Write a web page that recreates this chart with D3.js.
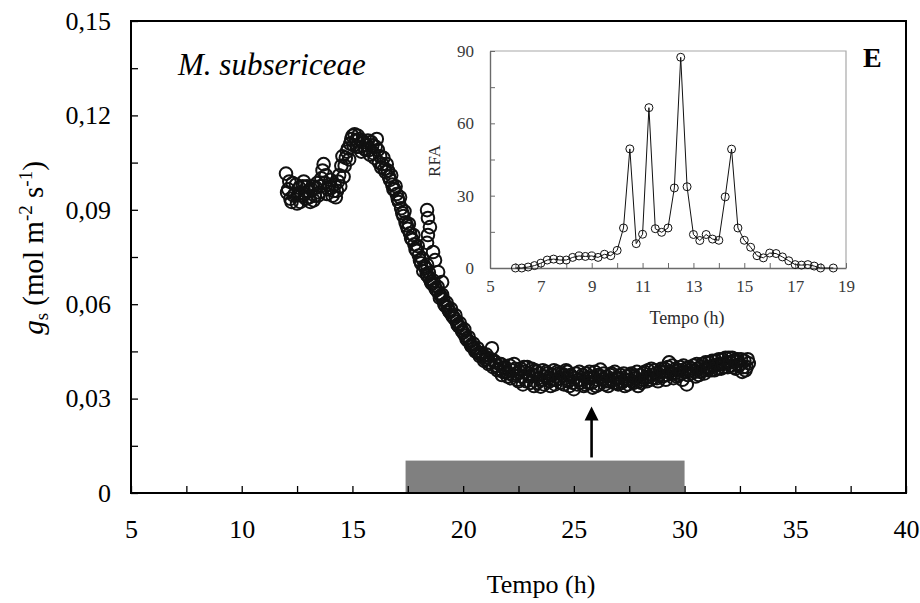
<!DOCTYPE html>
<html>
<head>
<meta charset="utf-8">
<script src="https://cdn.jsdelivr.net/npm/d3@7"></script>
<style>
  html, body { margin: 0; padding: 0; background: #fff; }
  svg { display: block; font-family: "Liberation Serif", "Times New Roman", serif; }
</style>
</head>
<body>
<svg id="chart" width="920" height="603"></svg>
<script>
// Stomatal conductance g_s over time (h), measured as [time, g_s] pairs
const gsSeries = [
  [12.0,0.1015],[12.1,0.0965],[12.2,0.0935],[12.3,0.0985],[12.4,0.0950],[12.5,0.0920],[12.6,0.0970],[12.7,0.0945],[12.8,0.0990],[12.9,0.0935],
  [13.0,0.0960],[13.1,0.0925],[13.2,0.0975],[13.3,0.0945],[13.4,0.0985],[13.5,0.0955],[13.6,0.1000],[13.7,0.1045],[13.8,0.1010],[13.9,0.0965],
  [14.0,0.0995],[14.1,0.0945],[14.2,0.0980],[14.3,0.0960],[14.4,0.1010],[14.5,0.1040],[14.6,0.1005],[14.7,0.1065],[14.8,0.1095],[14.9,0.1110],
  [15.0,0.1135],[15.1,0.1140],[15.2,0.1100],[15.3,0.1125],[15.4,0.1085],[15.5,0.1115],[15.6,0.1090],[15.7,0.1120],[15.8,0.1075],[15.9,0.1105],
  [16.0,0.1065],[16.1,0.1125],[16.15,0.1090],[16.2,0.1050],[16.3,0.1035],[16.4,0.1065],[16.5,0.1020],[16.6,0.1025],[16.7,0.0995],[16.8,0.0980],[16.9,0.0965],
  [17.0,0.0950],[17.1,0.0925],[17.2,0.0905],[17.3,0.0880],[17.4,0.0860],[17.5,0.0840],[17.6,0.0825],[17.7,0.0805],[17.8,0.0790],[17.9,0.0770],
  [18.0,0.0755],[18.1,0.0730],[18.2,0.0705],[18.3,0.0715],[18.4,0.0690],[18.5,0.0680],[18.6,0.0665],[18.7,0.0660],[18.8,0.0645],[18.9,0.0635],
  [18.37,0.0899],[18.41,0.0874],[18.50,0.0845],[18.41,0.0820],[18.37,0.0795],[18.64,0.0766],[18.73,0.0740],[18.37,0.0725],[18.87,0.0702],[19.05,0.0670],
  [19.0,0.0625],[19.1,0.0615],[19.2,0.0595],[19.3,0.0590],[19.4,0.0575],[19.5,0.0565],[19.6,0.0555],[19.7,0.0545],[19.8,0.0530],[19.9,0.0525],
  [20.0,0.0510],[20.1,0.0500],[20.2,0.0485],[20.3,0.0480],[20.4,0.0465],[20.5,0.0460],[20.6,0.0450],[20.7,0.0445],[20.8,0.0440],[20.9,0.0435],
  [21.0,0.0425],[21.1,0.0430],[21.2,0.0415],[21.3,0.0460],[21.4,0.0420],[21.5,0.0405],[21.6,0.0395],[21.7,0.0410],[21.8,0.0385],[21.9,0.0400],
  [22.0,0.0370],[22.1,0.0405],[22.2,0.0390],[22.3,0.0410],[22.4,0.0380],[22.5,0.0355],[22.6,0.0395],[22.7,0.0345],[22.8,0.0385],[22.9,0.0400],
  [23.0,0.0370],[23.1,0.0395],[23.2,0.0340],[23.3,0.0385],[23.4,0.0365],[23.5,0.0338],[23.6,0.0390],[23.7,0.0370],[23.8,0.0380],[23.9,0.0355],
  [24.0,0.0375],[24.1,0.0390],[24.2,0.0360],[24.3,0.0380],[24.4,0.0350],[24.5,0.0375],[24.6,0.0365],[24.7,0.0385],[24.8,0.0340],[24.9,0.0370],
  [25.0,0.0330],[25.1,0.0380],[25.2,0.0360],[25.3,0.0350],[25.4,0.0375],[25.5,0.0345],[25.6,0.0365],[25.7,0.0385],[25.8,0.0350],[25.9,0.0370],
  [26.0,0.0340],[26.1,0.0375],[26.2,0.0392],[26.3,0.0360],[26.4,0.0345],[26.5,0.0370],[26.6,0.0355],[26.7,0.0380],[26.8,0.0350],[26.9,0.0365],
  [27.0,0.0345],[27.1,0.0375],[27.2,0.0355],[27.3,0.0340],[27.4,0.0370],[27.5,0.0360],[27.6,0.0380],[27.7,0.0350],[27.8,0.0365],[27.9,0.0340],
  [28.0,0.0375],[28.1,0.0360],[28.2,0.0385],[28.3,0.0355],[28.4,0.0370],[28.5,0.0395],[28.6,0.0365],[28.7,0.0380],[28.8,0.0355],[28.9,0.0385],
  [29.0,0.0370],[29.1,0.0395],[29.2,0.0375],[29.3,0.0415],[29.4,0.0380],[29.5,0.0365],[29.6,0.0395],[29.7,0.0375],[29.8,0.0400],[29.9,0.0360],
  [30.0,0.0385],[30.1,0.0345],[30.2,0.0400],[30.3,0.0380],[30.4,0.0405],[30.5,0.0370],[30.6,0.0395],[30.7,0.0385],[30.8,0.0410],[30.9,0.0380],
  [31.0,0.0400],[31.1,0.0415],[31.2,0.0390],[31.3,0.0405],[31.4,0.0420],[31.5,0.0395],[31.6,0.0410],[31.7,0.0425],[31.8,0.0400],[31.9,0.0415],
  [32.0,0.0430],[32.1,0.0405],[32.2,0.0420],[32.3,0.0395],[32.4,0.0425],[32.5,0.0410],[32.6,0.0385],[32.7,0.0420],[32.8,0.0400],[32.9,0.0412],
  // readings taken between the tenth-hour marks
  [12.05,0.0955],[12.15,0.0990],[12.25,0.0925],[12.35,0.0945],[12.45,0.0980],[12.55,0.0950],[12.65,0.0925],[12.75,0.0975],[12.85,0.0950],[12.95,0.0975],
  [13.05,0.0940],[13.15,0.0965],[13.25,0.0930],[13.35,0.0970],[13.45,0.0945],[13.55,0.0975],[13.65,0.1025],[13.75,0.0985],[13.85,0.0950],[13.95,0.0980],
  [14.05,0.0970],[14.15,0.0960],[14.25,0.0940],[14.35,0.0990],[14.45,0.0975],[14.55,0.1070],[14.65,0.1040],[14.75,0.1085],[14.85,0.1060],[14.95,0.1125],
  [15.05,0.1105],[15.15,0.1120],[15.25,0.1135],[15.35,0.1100],[15.45,0.1120],[15.55,0.1095],[15.65,0.1105],[15.75,0.1090],[15.85,0.1115],[15.95,0.1080],
  [16.05,0.1100],[16.25,0.1070],[16.35,0.1045],[16.45,0.1030],[16.55,0.1045],[16.65,0.1005],[16.75,0.1010],[16.85,0.0965],[16.95,0.0975],
  [17.05,0.0935],[17.15,0.0940],[17.25,0.0890],[17.35,0.0895],[17.45,0.0850],[17.55,0.0855],[17.65,0.0810],[17.75,0.0820],[17.85,0.0775],[17.95,0.0785],
  [18.05,0.0740],[18.15,0.0745],[18.25,0.0720],[18.35,0.0695],[18.45,0.0700],[18.55,0.0670],[18.65,0.0675],[18.75,0.0650],[18.85,0.0655],[18.95,0.0620],
  [19.05,0.0630],[19.15,0.0600],[19.25,0.0605],[19.35,0.0580],[19.45,0.0585],[19.55,0.0560],[19.65,0.0565],[19.75,0.0535],[19.85,0.0540],[19.95,0.0515],
  [20.05,0.0520],[20.15,0.0490],[20.25,0.0495],[20.35,0.0470],[20.45,0.0475],[20.55,0.0450],[20.65,0.0460],[20.75,0.0435],[20.85,0.0445],[20.95,0.0420],
  [21.05,0.0440],[21.15,0.0410],[21.25,0.0425],[21.35,0.0400],[21.45,0.0415],[21.55,0.0390],[21.65,0.0410],[21.75,0.0375],[21.85,0.0395],[21.95,0.0385],
  [22.05,0.0380],[22.15,0.0365],[22.25,0.0375],[22.35,0.0395],[22.45,0.0360],[22.55,0.0385],[22.65,0.0370],[22.75,0.0400],[22.85,0.0355],[22.95,0.0380],
  [23.05,0.0350],[23.15,0.0375],[23.25,0.0390],[23.35,0.0350],[23.45,0.0380],[23.55,0.0360],[23.65,0.0345],[23.75,0.0385],[23.85,0.0365],[23.95,0.0340],
  [24.05,0.0360],[24.15,0.0345],[24.25,0.0385],[24.35,0.0365],[24.45,0.0380],[24.55,0.0345],[24.65,0.0390],[24.75,0.0355],[24.85,0.0375],[24.95,0.0350],
  [25.05,0.0365],[25.15,0.0345],[25.25,0.0385],[25.35,0.0360],[25.45,0.0340],[25.55,0.0380],[25.65,0.0350],[25.75,0.0365],[25.85,0.0335],[25.95,0.0385],
  [26.05,0.0360],[26.15,0.0345],[26.25,0.0370],[26.35,0.0380],[26.45,0.0355],[26.55,0.0340],[26.65,0.0375],[26.75,0.0360],[26.85,0.0385],[26.95,0.0350],
  [27.05,0.0365],[27.15,0.0350],[27.25,0.0380],[27.35,0.0360],[27.45,0.0345],[27.55,0.0375],[27.65,0.0355],[27.75,0.0370],[27.85,0.0385],[27.95,0.0355],
  [28.05,0.0350],[28.15,0.0380],[28.25,0.0365],[28.35,0.0390],[28.45,0.0360],[28.55,0.0375],[28.65,0.0390],[28.75,0.0365],[28.85,0.0375],[28.95,0.0395],
  [29.05,0.0385],[29.15,0.0360],[29.25,0.0400],[29.35,0.0385],[29.45,0.0405],[29.55,0.0380],[29.65,0.0370],[29.75,0.0390],[29.85,0.0380],[29.95,0.0405],
  [30.05,0.0395],[30.15,0.0375],[30.25,0.0390],[30.35,0.0395],[30.45,0.0385],[30.55,0.0410],[30.65,0.0375],[30.75,0.0400],[30.85,0.0390],[30.95,0.0415],
  [31.05,0.0390],[31.15,0.0400],[31.25,0.0420],[31.35,0.0390],[31.45,0.0405],[31.55,0.0425],[31.65,0.0395],[31.75,0.0410],[31.85,0.0430],[31.95,0.0400],
  [32.05,0.0415],[32.15,0.0430],[32.25,0.0400],[32.35,0.0420],[32.45,0.0405],[32.55,0.0425],[32.65,0.0400],[32.75,0.0390],[32.85,0.0425]
];

// Inset: RFA against time (h)
const rfaTime  = [6.0,6.25,6.5,6.75,7.0,7.25,7.5,7.75,8.0,8.25,8.5,8.75,9.0,9.25,9.5,9.75,10.0,10.25,10.5,10.75,11.0,11.25,11.5,11.75,12.0,12.25,12.5,12.75,13.0,13.25,13.5,13.75,14.0,14.25,14.5,14.75,15.0,15.25,15.5,15.75,16.0,16.25,16.5,16.75,17.0,17.25,17.5,17.75,18.0,18.5];
const rfaValue = [0,0,0.4,1,2,3.3,3.7,3.3,3.3,4.4,5,4.8,5,4.4,5.7,5.1,7.3,16.6,49.4,10.1,14,66.5,16.3,14.8,16.6,33.2,87.4,33.7,13.9,11.4,13.9,12,11.5,29.5,49.3,16.6,11.5,8.6,5.1,4.2,6.2,6,4.6,3,1.4,1.2,1.4,0.8,0,0];

// Axis ticks and labels
const xMainTicks = [5,10,15,20,25,30,35,40];
const xMainMinor = [7.5,12.5,17.5,22.5,27.5,32.5,37.5];
const yMainTicks = [0,0.03,0.06,0.09,0.12,0.15];
const yMainLabels = ["0","0,03","0,06","0,09","0,12","0,15"];
const yMainMinor = [0.015,0.045,0.075,0.105,0.135];
const xInsetLabels = [5,7,9,11,13,15,17,19];
const xInsetTicks = [5,6,7,8,9,10,11,12,13,14,15,16,17,18,19];
const yInsetLabels = [0,30,60,90];
const yInsetTicks = [0,15,30,45,60,75,90];

// Dark period bar and arrow annotation (time in h, g_s units)
const darkPeriod = [17.4, 30];
const darkPeriodTop = 0.0103;
const arrowAt = { time: 25.8, from: 0.0113, to: 0.0275 };

const svg = d3.select("#chart");

// ---------- main panel ----------
const x = d3.scaleLinear().domain([5, 40]).range([131, 906]);
const y = d3.scaleLinear().domain([0, 0.15]).range([493, 21]);

// dark period bar
svg.append("rect")
  .attr("x", x(darkPeriod[0]))
  .attr("y", y(darkPeriodTop))
  .attr("width", x(darkPeriod[1]) - x(darkPeriod[0]))
  .attr("height", y(0) - y(darkPeriodTop))
  .attr("fill", "#808080");

// arrow
svg.append("line")
  .attr("x1", x(arrowAt.time)).attr("x2", x(arrowAt.time))
  .attr("y1", y(arrowAt.from)).attr("y2", y(arrowAt.to) + 12)
  .attr("stroke", "#000").attr("stroke-width", 2.6);
svg.append("path")
  .attr("d", `M${x(arrowAt.time)},${y(arrowAt.to)} l-7,14 l14,0 Z`)
  .attr("fill", "#000");

// data points
svg.append("g").selectAll("circle")
  .data(gsSeries)
  .join("circle")
  .attr("cx", d => x(d[0]))
  .attr("cy", d => y(d[1]))
  .attr("r", 6.3)
  .attr("fill", "none")
  .attr("stroke", "#111")
  .attr("stroke-width", 2);

// plot frame
svg.append("rect")
  .attr("x", x(5)).attr("y", y(0.15))
  .attr("width", x(40) - x(5)).attr("height", y(0) - y(0.15))
  .attr("fill", "none").attr("stroke", "#000").attr("stroke-width", 2);

// axes (ticks point inward)
const xAxisMinor = d3.axisBottom(x).tickValues(xMainMinor).tickSize(-7).tickSizeOuter(0).tickFormat("");
const xAxis = d3.axisBottom(x).tickValues(xMainTicks).tickSize(-7).tickSizeOuter(0).tickPadding(27);
const yAxisMinor = d3.axisLeft(y).tickValues(yMainMinor).tickSize(-7).tickSizeOuter(0).tickFormat("");
const yAxis = d3.axisLeft(y).tickValues(yMainTicks).tickSize(-7).tickSizeOuter(0).tickPadding(20)
  .tickFormat((d, i) => yMainLabels[i]);

function styleAxis(g, size) {
  g.select(".domain").remove();
  g.selectAll(".tick line").attr("stroke", "#000").attr("stroke-width", 1.3);
  g.selectAll(".tick text").attr("fill", "#000").attr("font-size", size)
    .attr("font-family", "Liberation Serif");
}
svg.append("g").attr("transform", `translate(0,${y(0)})`).call(xAxisMinor).call(g => styleAxis(g, 26));
svg.append("g").attr("transform", `translate(0,${y(0)})`).call(xAxis).call(g => styleAxis(g, 26));
svg.append("g").attr("transform", `translate(${x(5)},0)`).call(yAxisMinor).call(g => styleAxis(g, 26));
svg.append("g").attr("transform", `translate(${x(5)},0)`).call(yAxis).call(g => styleAxis(g, 26));

// axis titles
svg.append("text")
  .attr("x", 541).attr("y", 593)
  .attr("text-anchor", "middle").attr("font-size", 26)
  .text("Tempo (h)");

const yTitle = svg.append("text")
  .attr("transform", "translate(43,248) rotate(-90)")
  .attr("text-anchor", "middle").attr("font-size", 29);
yTitle.append("tspan").attr("font-style", "italic").text("g");
yTitle.append("tspan").attr("font-size", 19).attr("dy", 5).text("s");
yTitle.append("tspan").attr("dy", -5).text(" (mol m");
yTitle.append("tspan").attr("font-size", 19).attr("dy", -11).text("-2");
yTitle.append("tspan").attr("dy", 11).text(" s");
yTitle.append("tspan").attr("font-size", 19).attr("dy", -11).text("-1");
yTitle.append("tspan").attr("dy", 11).text(")");

// species name and panel letter
svg.append("text")
  .attr("x", 178).attr("y", 75)
  .attr("font-size", 31).attr("font-style", "italic")
  .text("M. subsericeae");
svg.append("text")
  .attr("x", 863).attr("y", 67)
  .attr("font-size", 28).attr("font-weight", "bold")
  .text("E");

// ---------- inset ----------
const xi = d3.scaleLinear().domain([5, 19]).range([490, 846]);
const yi = d3.scaleLinear().domain([0, 90]).range([268, 51]);

// top and right frame in light grey
svg.append("path")
  .attr("d", `M${xi(5)},${yi(90)} H${xi(19)} V${yi(0)}`)
  .attr("fill", "none").attr("stroke", "#a8a8a8").attr("stroke-width", 1.2);

const xiAxisTicks = d3.axisBottom(xi).tickValues(xInsetTicks).tickSize(-5).tickSizeOuter(0).tickFormat("");
const xiAxis = d3.axisBottom(xi).tickValues(xInsetLabels).tickSize(0).tickSizeOuter(0).tickPadding(12);
const yiAxisTicks = d3.axisLeft(yi).tickValues(yInsetTicks).tickSize(-5).tickSizeOuter(0).tickFormat("");
const yiAxis = d3.axisLeft(yi).tickValues(yInsetLabels).tickSize(0).tickSizeOuter(0).tickPadding(16);

function styleInset(g, keepDomain) {
  if (keepDomain) g.select(".domain").attr("stroke", "#6a6a6a").attr("stroke-width", 1.4);
  else g.select(".domain").remove();
  g.selectAll(".tick line").attr("stroke", "#6a6a6a").attr("stroke-width", 1);
  g.selectAll(".tick text").attr("fill", "#3a3a3a").attr("font-size", 17)
    .attr("font-family", "Liberation Serif");
}
svg.append("g").attr("transform", `translate(0,${yi(0)})`).call(xiAxisTicks).call(g => styleInset(g, true));
svg.append("g").attr("transform", `translate(0,${yi(0)})`).call(xiAxis).call(g => styleInset(g, false));
svg.append("g").attr("transform", `translate(${xi(5)},0)`).call(yiAxisTicks).call(g => styleInset(g, true));
svg.append("g").attr("transform", `translate(${xi(5)},0)`).call(yiAxis).call(g => styleInset(g, false));

const rfa = rfaTime.map((t, i) => [t, rfaValue[i]]);
svg.append("path")
  .datum(rfa)
  .attr("d", d3.line().x(d => xi(d[0])).y(d => yi(d[1])))
  .attr("fill", "none").attr("stroke", "#111").attr("stroke-width", 1);
svg.append("g").selectAll("circle")
  .data(rfa)
  .join("circle")
  .attr("cx", d => xi(d[0]))
  .attr("cy", d => yi(d[1]))
  .attr("r", 4)
  .attr("fill", "none")
  .attr("stroke", "#111")
  .attr("stroke-width", 1);

svg.append("text")
  .attr("x", 687).attr("y", 324)
  .attr("text-anchor", "middle").attr("font-size", 18).attr("fill", "#2a2a2a")
  .text("Tempo (h)");
svg.append("text")
  .attr("transform", "translate(440,161) rotate(-90)")
  .attr("text-anchor", "middle").attr("font-size", 17).attr("fill", "#2a2a2a")
  .text("RFA");
</script>
</body>
</html>
